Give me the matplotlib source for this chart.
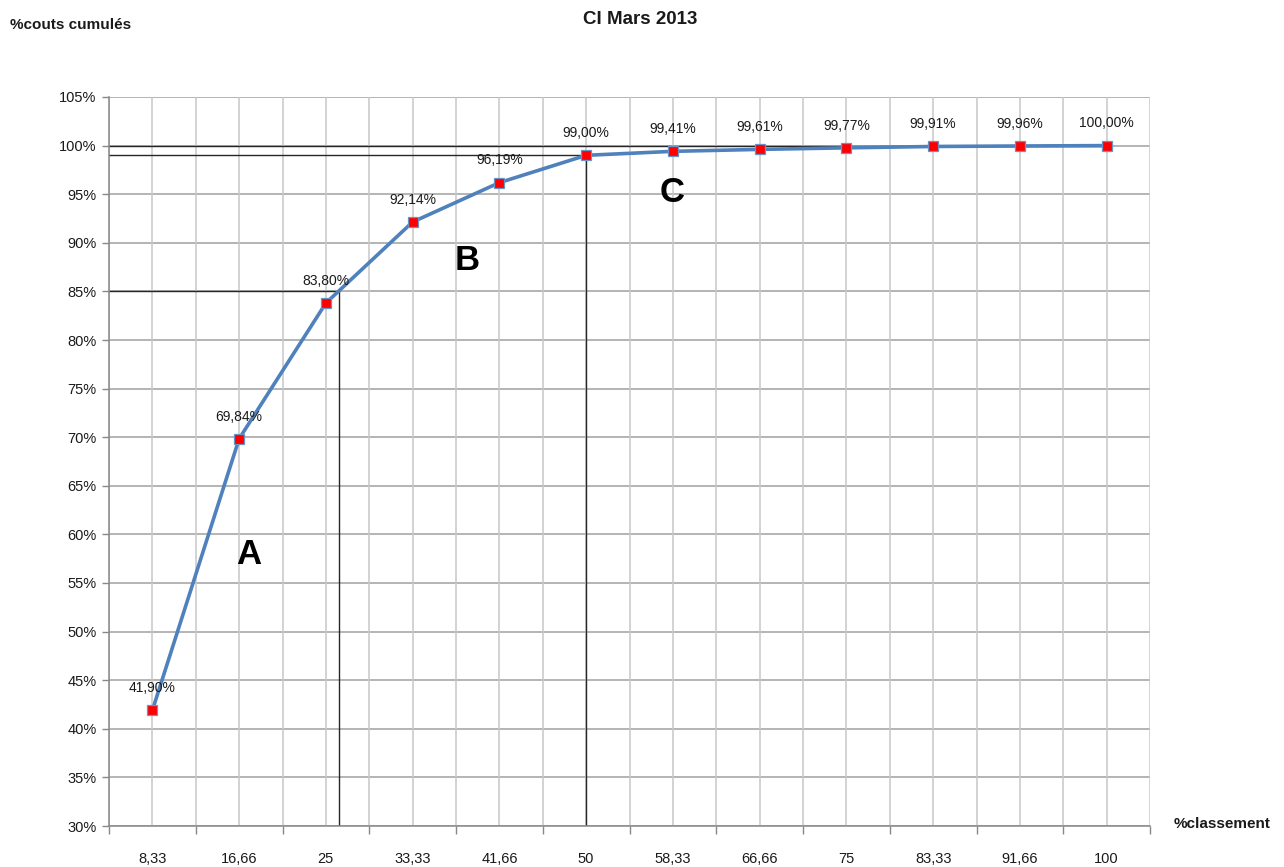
import matplotlib
matplotlib.use("Agg")
import matplotlib.pyplot as plt
from matplotlib.ticker import FixedLocator, FuncFormatter

plt.rcParams['font.family'] = ['Liberation Sans', 'DejaVu Sans']

# Cumulative cost share (%) by ranking class
categories = ["8,33", "16,66", "25", "33,33", "41,66", "50",
              "58,33", "66,66", "75", "83,33", "91,66", "100"]
cumulative = [41.90, 69.84, 83.80, 92.14, 96.19, 99.00,
              99.41, 99.61, 99.77, 99.91, 99.96, 100.00]
y_ticks = list(range(30, 106, 5))

# ABC zone annotations (label, x position in category units, y in %)
zones = [("A", 1.11, 57.9), ("B", 3.63, 88.2), ("C", 5.99, 95.2)]

fig = plt.figure(figsize=(12.84, 8.67), dpi=100)
ax = fig.add_axes([109 / 1284, 1 - 826 / 867, (1150 - 109) / 1284, (826 - 97) / 867])

n = len(categories)
xs = list(range(n))
ax.set_xlim(-0.5, n - 0.5)
ax.set_ylim(30, 105)

# grid: horizontal at every 5 %, vertical at every half category
for y in y_ticks:
    ax.axhline(y, color="#A0A0A0", lw=1.1, zorder=0)
for i in range(2 * n + 1):
    ax.axvline(-0.5 + i * 0.5, color="#C8C8C8", lw=1.1, zorder=0)

# reference lines for the A/B/C limits
ref_color = "#262626"
ax.plot([-0.5, 2.155], [85, 85], color=ref_color, lw=1.0, zorder=1)
ax.plot([2.155, 2.155], [30, 85], color=ref_color, lw=1.0, zorder=1)
ax.plot([-0.5, 5], [99, 99], color=ref_color, lw=1.0, zorder=1)
ax.plot([5, 5], [30, 99], color=ref_color, lw=1.0, zorder=1)
ax.plot([-0.5, 11], [100, 100], color=ref_color, lw=1.0, zorder=1)

# cumulative curve
ax.plot(xs, cumulative, color="#4F81BD", lw=2.6, zorder=3, solid_capstyle="round",
        marker="s", markersize=6.5, markerfacecolor="#FF0000",
        markeredgecolor="#6A93C8", markeredgewidth=0.9)

for x, v in zip(xs, cumulative):
    ax.annotate(f"{v:.2f}%".replace(".", ","), (x, v), xytext=(0, 16),
                textcoords="offset points", ha="center", va="center",
                fontsize=10, color="#1a1a1a", zorder=4)

for label, zx, zy in zones:
    ax.text(zx, zy, label, fontsize=25, fontweight="bold", ha="center", va="center",
            color="black", zorder=4)

# axes styling
for side in ("top", "right"):
    ax.spines[side].set_visible(False)
for side in ("left", "bottom"):
    ax.spines[side].set_color("#888888")
    ax.spines[side].set_linewidth(1.1)

ax.yaxis.set_major_locator(FixedLocator(y_ticks))
ax.yaxis.set_major_formatter(FuncFormatter(lambda v, p: f"{int(v)}%"))
ax.tick_params(axis="y", length=5, width=1.0, color="#888888", pad=4,
               labelsize=10.5, labelcolor="#1a1a1a")

ax.set_xticks(xs)
ax.set_xticklabels(categories)
ax.set_xticks([i - 0.5 for i in range(n + 1)], minor=True)
ax.tick_params(axis="x", which="major", length=0, pad=19, labelsize=10.5, labelcolor="#1a1a1a")
ax.tick_params(axis="x", which="minor", length=6, width=1.0, color="#888888")

fig.text(640 / 1284, 1 - 20 / 867, "CI Mars 2013", ha="center", va="center",
         fontsize=13.5, fontweight="bold", color="#1a1a1a")
fig.text(10 / 1284, 1 - 25 / 867, "%couts cumulés", ha="left", va="center",
         fontsize=11, fontweight="bold", color="#1a1a1a")
fig.text(1222 / 1284, 1 - 824 / 867, "%classement", ha="center", va="center",
         fontsize=11, fontweight="bold", color="#1a1a1a")

fig.savefig("out.png", dpi=100)
